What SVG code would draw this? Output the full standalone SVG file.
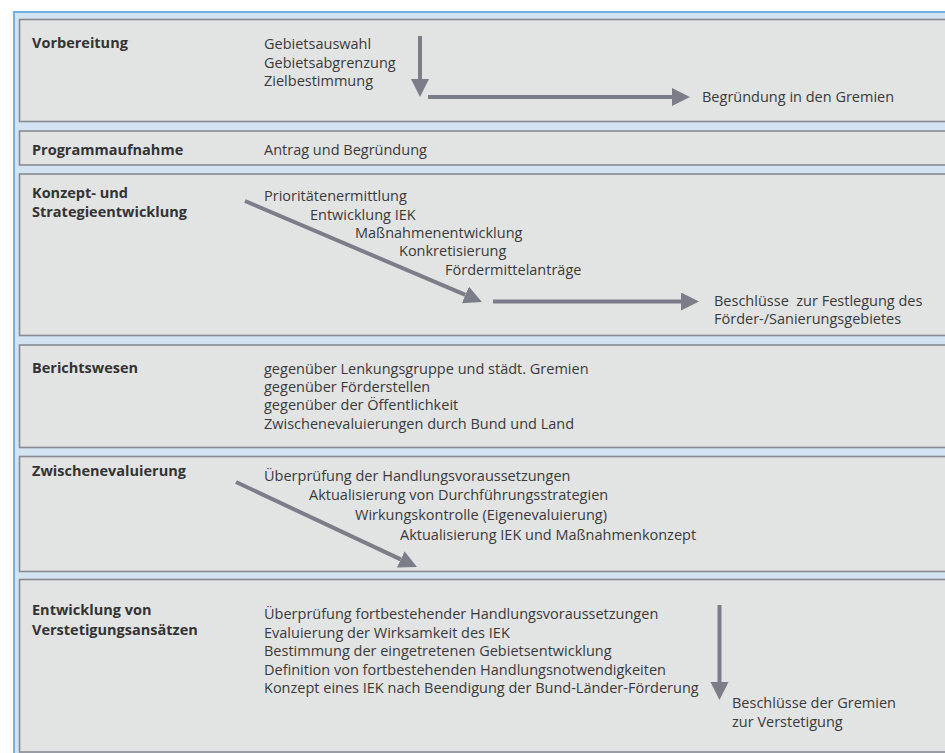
<svg xmlns="http://www.w3.org/2000/svg" width="945" height="753" viewBox="0 0 945 753">
<defs>
<style>
.bg{fill:#d4e3f2}
.frame{fill:none;stroke:#72b2e2;stroke-width:2}
.panel{fill:#e2e3e3;stroke:#878a90;stroke-width:1.6}
.lbl{font-family:"Open Sans","Noto Sans",sans-serif;font-size:14.5px;font-weight:bold;fill:#333}
.txt{font-family:"Open Sans","Noto Sans",sans-serif;font-size:14.5px;fill:#3a3a3a}
.arr{stroke:#7b7e88;stroke-width:4;fill:none;marker-end:url(#head)}
</style>
<marker id="head" markerUnits="userSpaceOnUse" markerWidth="19" markerHeight="19" refX="0" refY="9" orient="auto" viewBox="0 0 19 19">
<path d="M0,0 L18,9 L0,18 z" fill="#7b7e88"/>
</marker>
</defs>
<rect class="bg" x="14" y="12" width="935" height="745"/>
<path class="frame" d="M14,760 V12 H950"/>

<g id="vorbereitung">
<rect class="panel" x="19.5" y="19.5" width="940" height="102"/>
<text class="lbl" x="32" y="48">Vorbereitung</text>
<text class="txt" x="264" y="49">Gebietsauswahl</text>
<text class="txt" x="264" y="68">Gebietsabgrenzung</text>
<text class="txt" x="264" y="86">Zielbestimmung</text>
<text class="txt" x="702" y="102">Begründung in den Gremien</text>
</g>

<g id="programmaufnahme">
<rect class="panel" x="19.5" y="131" width="940" height="34"/>
<text class="lbl" x="32" y="155">Programmaufnahme</text>
<text class="txt" x="264" y="155">Antrag und Begründung</text>
</g>

<g id="konzept">
<rect class="panel" x="19.5" y="174" width="940" height="161.5"/>
<text class="lbl" x="32" y="198">Konzept- und</text>
<text class="lbl" x="32" y="217">Strategieentwicklung</text>
<text class="txt" x="264" y="201">Prioritätenermittlung</text>
<text class="txt" x="310" y="220">Entwicklung IEK</text>
<text class="txt" x="355" y="238">Maßnahmenentwicklung</text>
<text class="txt" x="399" y="256">Konkretisierung</text>
<text class="txt" x="445" y="275">Fördermittelanträge</text>
<text class="txt" x="714" y="306" xml:space="preserve">Beschlüsse  zur Festlegung des</text>
<text class="txt" x="714" y="324">Förder-/Sanierungsgebietes</text>
</g>

<g id="berichtswesen">
<rect class="panel" x="19.5" y="345" width="940" height="102.5"/>
<text class="lbl" x="32" y="373">Berichtswesen</text>
<text class="txt" x="264" y="374">gegenüber Lenkungsgruppe und städt. Gremien</text>
<text class="txt" x="264" y="392">gegenüber Förderstellen</text>
<text class="txt" x="264" y="410">gegenüber der Öffentlichkeit</text>
<text class="txt" x="264" y="429">Zwischenevaluierungen durch Bund und Land</text>
</g>

<g id="zwischenevaluierung">
<rect class="panel" x="19.5" y="456.5" width="940" height="115"/>
<text class="lbl" x="32" y="476">Zwischenevaluierung</text>
<text class="txt" x="264" y="481">Überprüfung der Handlungsvoraussetzungen</text>
<text class="txt" x="309" y="500">Aktualisierung von Durchführungsstrategien</text>
<text class="txt" x="355" y="520">Wirkungskontrolle (Eigenevaluierung)</text>
<text class="txt" x="400" y="540">Aktualisierung IEK und Maßnahmenkonzept</text>
</g>

<g id="verstetigung">
<rect class="panel" x="19.5" y="579.5" width="940" height="172.5"/>
<text class="lbl" x="32" y="615">Entwicklung von</text>
<text class="lbl" x="32" y="635">Verstetigungsansätzen</text>
<text class="txt" x="264" y="619">Überprüfung fortbestehender Handlungsvoraussetzungen</text>
<text class="txt" x="264" y="638">Evaluierung der Wirksamkeit des IEK</text>
<text class="txt" x="264" y="656">Bestimmung der eingetretenen Gebietsentwicklung</text>
<text class="txt" x="264" y="675">Definition von fortbestehenden Handlungsnotwendigkeiten</text>
<text class="txt" x="264" y="693">Konzept eines IEK nach Beendigung der Bund-Länder-Förderung</text>
<text class="txt" x="732" y="708">Beschlüsse der Gremien</text>
<text class="txt" x="732" y="727">zur Verstetigung</text>
</g>

<g id="connectors">
<line class="arr" x1="420" y1="36" x2="420" y2="79"/>
<line class="arr" x1="428" y1="97" x2="672" y2="97"/>
<line class="arr" x1="245" y1="201" x2="465.4" y2="294.9"/>
<line class="arr" x1="493" y1="301.5" x2="681" y2="301.5"/>
<line class="arr" x1="236" y1="482" x2="400.7" y2="559.4"/>
<line class="arr" x1="719.5" y1="605" x2="719.5" y2="682"/>
</g>
</svg>
